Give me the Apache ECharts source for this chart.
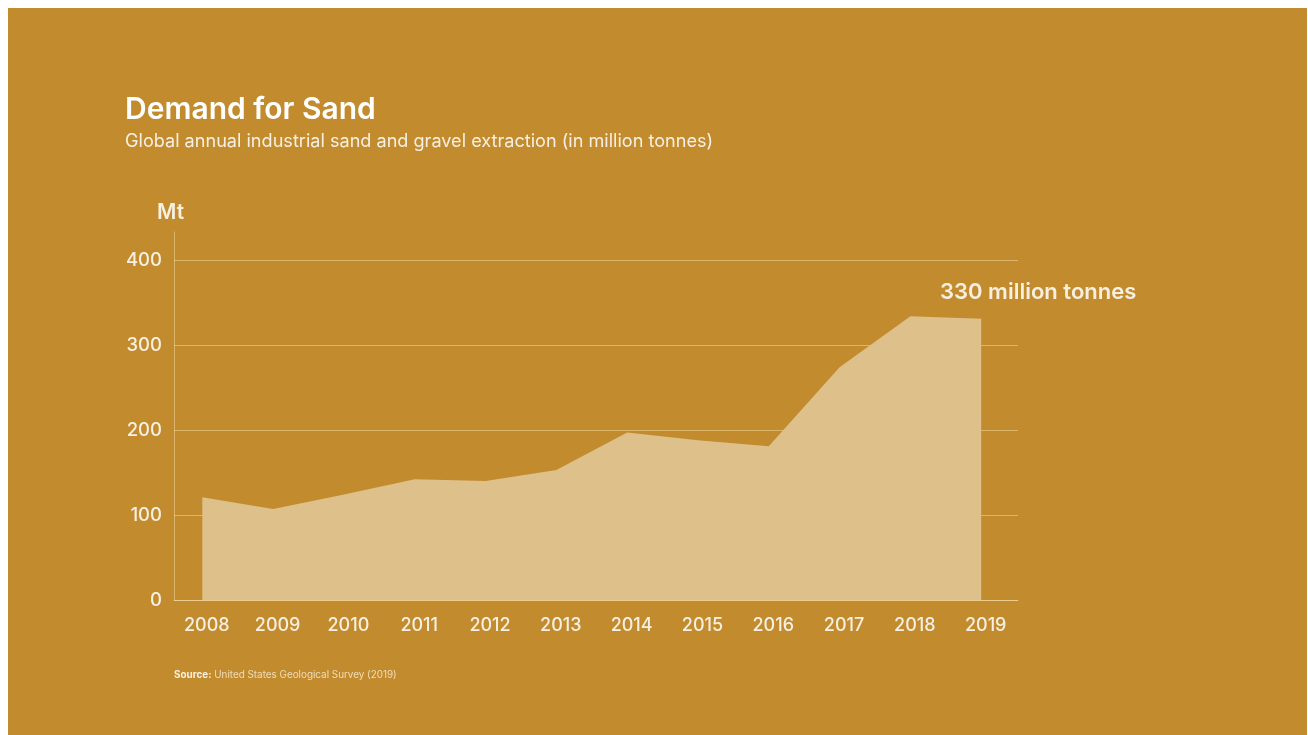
<!DOCTYPE html>
<html>
<head>
<meta charset="utf-8">
<script src="https://cdn.jsdelivr.net/npm/echarts@6/dist/echarts.min.js"></script>
<style>
  html, body { margin: 0; padding: 0; background: #fff; }
  #chart { position: absolute; left: 8px; top: 8px; width: 1299px; height: 727px; }
</style>
</head>
<body>
<div id="chart"></div>
<script>
// global sand and gravel extraction, million tonnes
var years = [2008, 2009, 2010, 2011, 2012, 2013, 2014, 2015, 2016, 2017, 2018, 2019];
var extraction = [121, 107, 124, 142, 140, 153, 197, 188, 181, 274, 334, 331];
var yTicks = [0, 100, 200, 300, 400];
var endNote = '330 million tonnes';

var gold = '#C28B2E';
var txt = '#F7F0E2';
var gridCol = 'rgba(255,232,180,0.45)';

var myChart = echarts.init(document.getElementById('chart'));

var seriesData = years.map(function (y, i) {
    var item = { value: [y, extraction[i]] };
    if (i === years.length - 1) {
        item.label = {
            show: true,
            position: 'top',
            offset: [57, -10],
            formatter: endNote,
            color: txt,
            fontSize: 22,
            fontWeight: 600,
            fontFamily: 'Inter'
        };
    }
    return item;
});

var option = {
    backgroundColor: gold,
    textStyle: { fontFamily: 'Inter' },
    title: [
        {
            text: 'Demand for Sand',
            left: 112, top: 82,
            textStyle: { color: '#FFFFFF', fontSize: 30, fontWeight: 600, fontFamily: 'Inter' }
        },
        {
            text: 'Global annual industrial sand and gravel extraction (in million tonnes)',
            left: 112, top: 120,
            textStyle: { color: txt, fontSize: 18.1, fontWeight: 400, fontFamily: 'Inter' }
        },
        {
            text: 'Mt',
            left: 144, top: 189,
            textStyle: { color: txt, fontSize: 21, fontWeight: 600, fontFamily: 'Inter' }
        },
        {
            text: '{b|Source:} United States Geological Survey (2019)',
            left: 161, top: 657,
            textStyle: {
                color: 'rgba(250,240,220,0.8)', fontSize: 9.9, fontWeight: 400, fontFamily: 'Inter',
                rich: { b: { fontWeight: 700, fontSize: 9.9, color: 'rgba(255,248,235,0.95)' } }
            }
        }
    ],
    grid: { left: 166, right: 289, top: 224, bottom: 135 },
    xAxis: {
        type: 'value',
        min: 2007.6,
        max: 2019.52,
        splitLine: { show: false },
        axisTick: { show: false },
        axisLine: { show: true, lineStyle: { color: gridCol, width: 1 } },
        axisLabel: {
            customValues: years,
            formatter: function (v) { return String(v); },
            padding: [0, 0, 0, 9],
            color: txt, fontSize: 18, fontWeight: 500, margin: 17, fontFamily: 'Inter'
        }
    },
    yAxis: {
        type: 'value',
        min: 0,
        max: 433,
        interval: 100,
        axisLine: { show: true, lineStyle: { color: gridCol, width: 1 } },
        axisTick: { show: false },
        splitLine: { show: true, showMaxLine: false, lineStyle: { color: gridCol, width: 1 } },
        axisLabel: {
            customValues: yTicks,
            color: txt, fontSize: 18.5, fontWeight: 500, margin: 12, fontFamily: 'Inter'
        }
    },
    series: [{
        type: 'line',
        data: seriesData,
        symbol: 'circle',
        symbolSize: 1,
        itemStyle: { color: 'rgba(0,0,0,0)' },
        lineStyle: { width: 0 },
        areaStyle: { color: '#DDC08A', opacity: 1 },
        z: 1
    }]
};
myChart.setOption(option);
</script>
</body>
</html>
